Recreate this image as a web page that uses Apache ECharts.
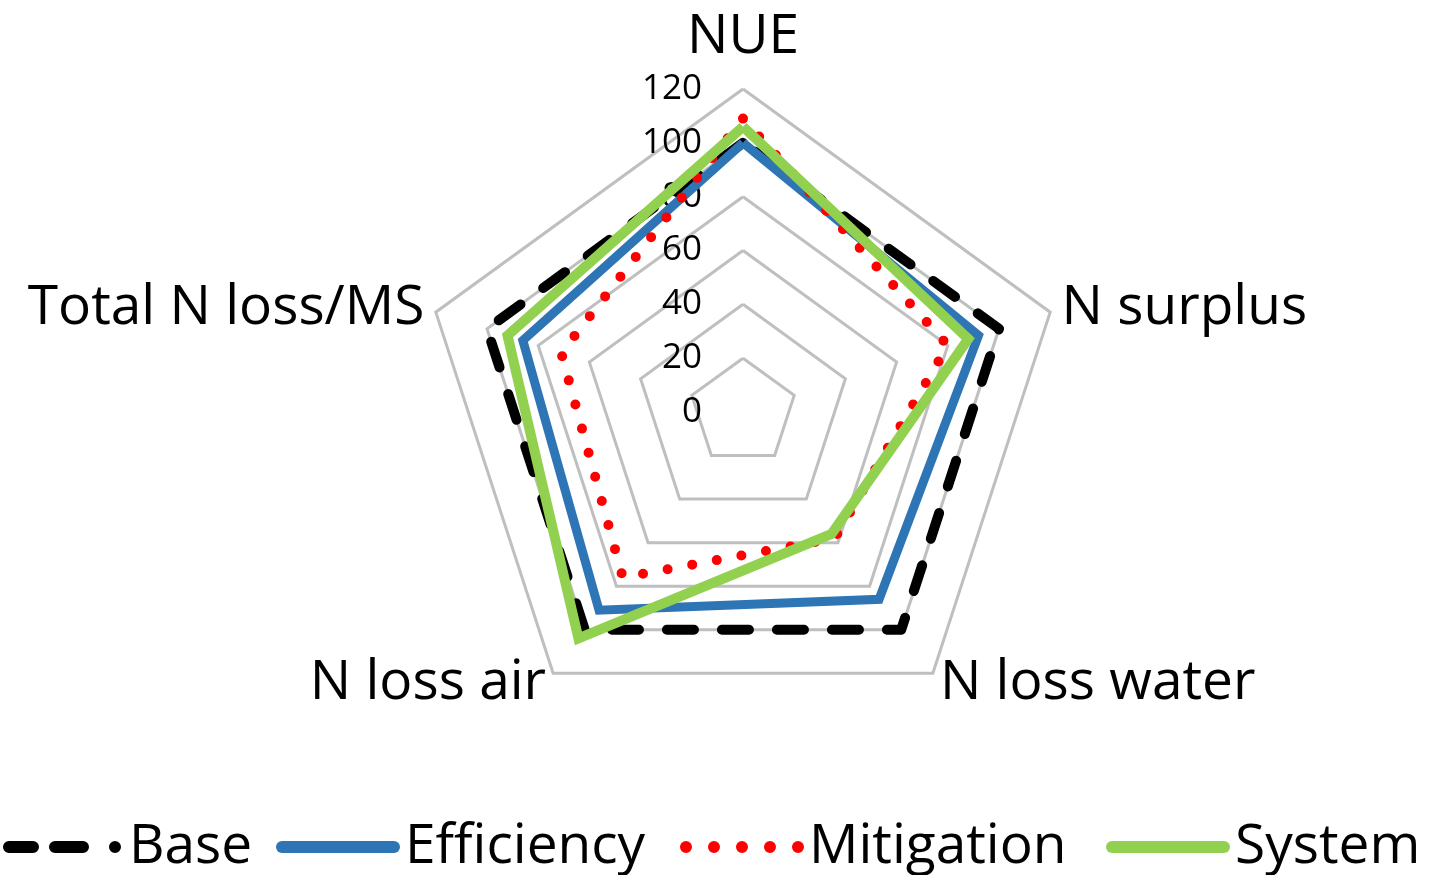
<!DOCTYPE html>
<html>
<head>
<meta charset="utf-8">
<script src="https://cdn.jsdelivr.net/npm/echarts@6/dist/echarts.min.js"></script>
<style>
  html, body { margin: 0; padding: 0; background: #ffffff; }
  #chart { width: 1431px; height: 875px; }
</style>
</head>
<body>
<div id="chart"></div>
<script>
// Radar axes, listed counter-clockwise from the top (ECharts places indicators that way)
const indicatorNames = ['NUE', 'Total N loss/MS', 'N loss air', 'N loss water', 'N surplus'];
const axisMax = 120;
const tickStep = 20;

// Scenario values (index, Base = 100), same order as indicatorNames
const baseValues       = [100, 100, 100, 100, 100];
const efficiencyValues = [100,  86,  91,  86,  92];
const mitigationValues = [109,  71,  76,  58,  80];
const systemValues     = [106,  92, 104,  56,  88];

const seriesNames = ['Base', 'Efficiency', 'Mitigation', 'System'];

const FONT = 'Open Sans';
const BIG = 55;

// Legend glyphs drawn as line samples (124 x 12 box)
const iconDashed = 'path://M6,0H30A6,6 0 0 1 30,12H6A6,6 0 0 1 6,0Z' +
                   'M52,0H80A6,6 0 0 1 80,12H52A6,6 0 0 1 52,0Z' +
                   'M112,0A6,6 0 0 1 112,12A6,6 0 0 1 112,0Z';
const iconSolid  = 'path://M6,0H118A6,6 0 0 1 118,12H6A6,6 0 0 1 6,0Z';
const iconDotted = 'path://M6,0A6,6 0 0 1 6,12A6,6 0 0 1 6,0Z' +
                   'M34,0A6,6 0 0 1 34,12A6,6 0 0 1 34,0Z' +
                   'M62,0A6,6 0 0 1 62,12A6,6 0 0 1 62,0Z' +
                   'M90,0A6,6 0 0 1 90,12A6,6 0 0 1 90,0Z' +
                   'M118,0A6,6 0 0 1 118,12A6,6 0 0 1 118,0Z';

function legendAt(name, left, icon) {
  return {
    data: [{ name: name, icon: icon }],
    left: left,
    top: 817,
    itemWidth: 124,
    itemHeight: 12,
    itemGap: 0,
    padding: 0,
    selectedMode: false,
    textStyle: { fontFamily: FONT, fontSize: BIG, color: '#000', lineHeight: 60 }
  };
}

// The top axis carries the value labels and a little extra room above its name
function buildIndicator(name, i) {
  const ind = { name: name, min: 0, max: axisMax };
  if (i === 0) {
    ind.axisLabel = { show: true };
    ind.nameTextStyle = { padding: [0, 0, 12, 0] };
  }
  return ind;
}

const chart = echarts.init(document.getElementById('chart'), null, { renderer: 'canvas' });

const option = {
  backgroundColor: '#ffffff',
  animation: false,
  legend: [
    legendAt(seriesNames[0], 3, iconDashed),
    legendAt(seriesNames[1], 276, iconSolid),
    legendAt(seriesNames[2], 680, iconDotted),
    legendAt(seriesNames[3], 1106, iconSolid)
  ],
  radar: {
    center: [743, 412],
    radius: 323,
    startAngle: 90,
    shape: 'polygon',
    splitNumber: axisMax / tickStep,
    indicator: indicatorNames.map(buildIndicator),
    axisName: {
      color: '#000',
      fontFamily: FONT,
      fontSize: BIG
    },
    nameGap: 12,
    axisLine: { show: false },
    axisTick: { show: false },
    splitArea: { show: false },
    splitLine: { lineStyle: { color: '#BFBFBF', width: 3 } },
    axisLabel: {
      show: false,
      color: '#000',
      fontFamily: FONT,
      fontSize: 35,
      margin: 41,
      padding: [10, 0, 0, 0]
    }
  },
  series: [
    {
      name: seriesNames[0], type: 'radar', symbol: 'none', z: 2,
      lineStyle: { color: '#000000', width: 10, type: [27, 28], cap: 'round', join: 'round' },
      itemStyle: { color: '#000000' },
      data: [{ name: seriesNames[0], value: baseValues }]
    },
    {
      name: seriesNames[1], type: 'radar', symbol: 'none', z: 3,
      lineStyle: { color: '#2E75B6', width: 9, type: 'solid', join: 'miter' },
      itemStyle: { color: '#2E75B6' },
      data: [{ name: seriesNames[1], value: efficiencyValues }]
    },
    {
      name: seriesNames[2], type: 'radar', symbol: 'none', z: 4,
      lineStyle: { color: '#FF0000', width: 10, type: [0, 25], cap: 'round' },
      itemStyle: { color: '#FF0000' },
      data: [{ name: seriesNames[2], value: mitigationValues }]
    },
    {
      name: seriesNames[3], type: 'radar', symbol: 'none', z: 5,
      lineStyle: { color: '#92D050', width: 10, type: 'solid', join: 'miter' },
      itemStyle: { color: '#92D050' },
      data: [{ name: seriesNames[3], value: systemValues }]
    }
  ]
};

chart.setOption(option);
</script>
</body>
</html>
